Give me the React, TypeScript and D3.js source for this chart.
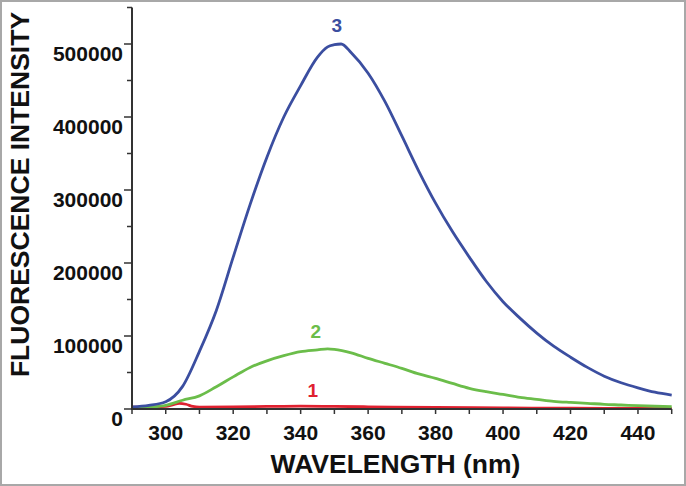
import React from "react";
import * as d3 from "d3";

const W = 686;
const H = 486;

const wavelengths3 = [290, 295, 300, 305, 310, 315, 320, 325, 330, 335, 340, 345, 348, 350, 352, 355, 360, 365, 370, 375, 380, 385, 390, 395, 400, 405, 410, 415, 420, 425, 430, 435, 440, 445, 450];
const series3 = [3000, 5000, 10000, 31000, 79000, 135000, 208000, 280000, 345000, 400000, 443000, 482000, 496000, 499000, 500000, 488000, 460000, 421000, 374000, 326000, 282000, 243000, 208000, 175000, 147000, 124500, 104000, 86000, 71000, 57000, 45000, 36000, 29000, 23000, 19000];

const wavelengths2 = [290, 295, 300, 305, 310, 315, 320, 325, 330, 335, 340, 345, 348, 350, 355, 360, 365, 370, 375, 380, 385, 390, 395, 400, 405, 410, 415, 420, 425, 430, 435, 440, 445, 450];
const series2 = [1000, 2500, 5000, 12000, 18000, 30500, 44000, 57000, 66000, 73000, 78500, 81000, 82500, 81800, 77000, 69400, 62600, 55700, 48000, 42000, 35000, 28300, 23700, 20000, 16000, 13300, 10500, 9000, 7800, 6400, 5500, 4500, 3800, 3200];

const wavelengths1 = [290, 295, 300, 302, 304, 306, 308, 310, 320, 330, 340, 350, 360, 380, 400, 420, 440, 450];
const series1 = [2500, 2500, 3500, 5500, 7800, 6500, 3500, 2500, 2800, 3500, 4000, 3500, 3000, 2200, 1500, 1000, 800, 700];

const xMajorTicks = [300, 320, 340, 360, 380, 400, 420, 440];
const xMinorTicks = [290, 310, 330, 350, 370, 390, 410, 430, 450];
const yMajorTicks = [0, 100000, 200000, 300000, 400000, 500000];
const yMinorTicks = [50000, 150000, 250000, 350000, 450000, 550000];

const seriesLabels = [
  { text: "3", x: 350.7, y: 516000, color: "#3b4ea0" },
  { text: "2", x: 344.5, y: 97000, color: "#6bbd4a" },
  { text: "1", x: 343.6, y: 16400, color: "#df2130" },
];

const FONT = "'Liberation Sans', Arial, Helvetica, sans-serif";
const AXIS = "#333";

export default function App() {
  const x = d3.scaleLinear().domain([290, 450]).range([132, 671.7]);
  const y = d3.scaleLinear().domain([0, 550000]).range([409, 7.5]);

  const line = d3
    .line<[number, number]>()
    .x((d) => x(d[0]))
    .y((d) => y(d[1]))
    .curve(d3.curveMonotoneX);

  const s1 = line(wavelengths1.map((w, i) => [w, series1[i]] as [number, number])) || "";
  const s2 = line(wavelengths2.map((w, i) => [w, series2[i]] as [number, number])) || "";
  const s3 = line(wavelengths3.map((w, i) => [w, series3[i]] as [number, number])) || "";

  return (
    <svg width={W} height={H} style={{ position: "absolute", left: 0, top: 0, background: "#fff" }} fontFamily={FONT}>
      <rect x={1} y={1} width={W - 2} height={H - 2} fill="#fff" stroke="#a8a8a8" strokeWidth={2} />
      {/* curves */}
      <path d={s1} fill="none" stroke="#df2130" strokeWidth={2.8} />
      <path d={s2} fill="none" stroke="#6bbd4a" strokeWidth={2.8} />
      <path d={s3} fill="none" stroke="#3b4ea0" strokeWidth={2.8} />
      {/* axes */}
      <line x1={x(290)} x2={x(290)} y1={y(550000)} y2={y(0) + 1} stroke={AXIS} strokeWidth={2} />
      <line x1={x(290) - 1} x2={x(450)} y1={y(0)} y2={y(0)} stroke={AXIS} strokeWidth={2} />
      {yMajorTicks.map((t) => (
        <g key={"ym" + t}>
          <line x1={x(290) - 8} x2={x(290)} y1={y(t)} y2={y(t)} stroke={AXIS} strokeWidth={1.5} />
          <text x={x(290) - 9} y={y(t) + 17} textAnchor="end" fontSize={21} fontWeight="bold" fill="#111">
            {t}
          </text>
        </g>
      ))}
      {yMinorTicks.map((t) => (
        <line key={"yn" + t} x1={x(290) - 5} x2={x(290)} y1={y(t)} y2={y(t)} stroke={AXIS} strokeWidth={1.5} />
      ))}
      {xMajorTicks.map((t) => (
        <g key={"xm" + t}>
          <line x1={x(t)} x2={x(t)} y1={y(0)} y2={y(0) + 5} stroke={AXIS} strokeWidth={1.5} />
          <text x={x(t)} y={440} textAnchor="middle" fontSize={21} fontWeight="bold" fill="#111">
            {t}
          </text>
        </g>
      ))}
      {xMinorTicks.map((t) => (
        <line key={"xn" + t} x1={x(t)} x2={x(t)} y1={y(0)} y2={y(0) + 5} stroke={AXIS} strokeWidth={1.5} />
      ))}
      {/* axis titles */}
      <text x={395.5} y={473} textAnchor="middle" fontSize={26.5} fontWeight="bold" fill="#111">
        WAVELENGTH (nm)
      </text>
      <text
        transform={`translate(29,194.5) rotate(-90)`}
        textAnchor="middle"
        fontSize={26.5}
        fontWeight="bold"
        fill="#111"
      >
        FLUORESCENCE INTENSITY
      </text>
      {/* series labels */}
      {seriesLabels.map((l) => (
        <text key={l.text} x={x(l.x)} y={y(l.y)} textAnchor="middle" fontSize={19} fontWeight="bold" fill={l.color}>
          {l.text}
        </text>
      ))}
    </svg>
  );
}
